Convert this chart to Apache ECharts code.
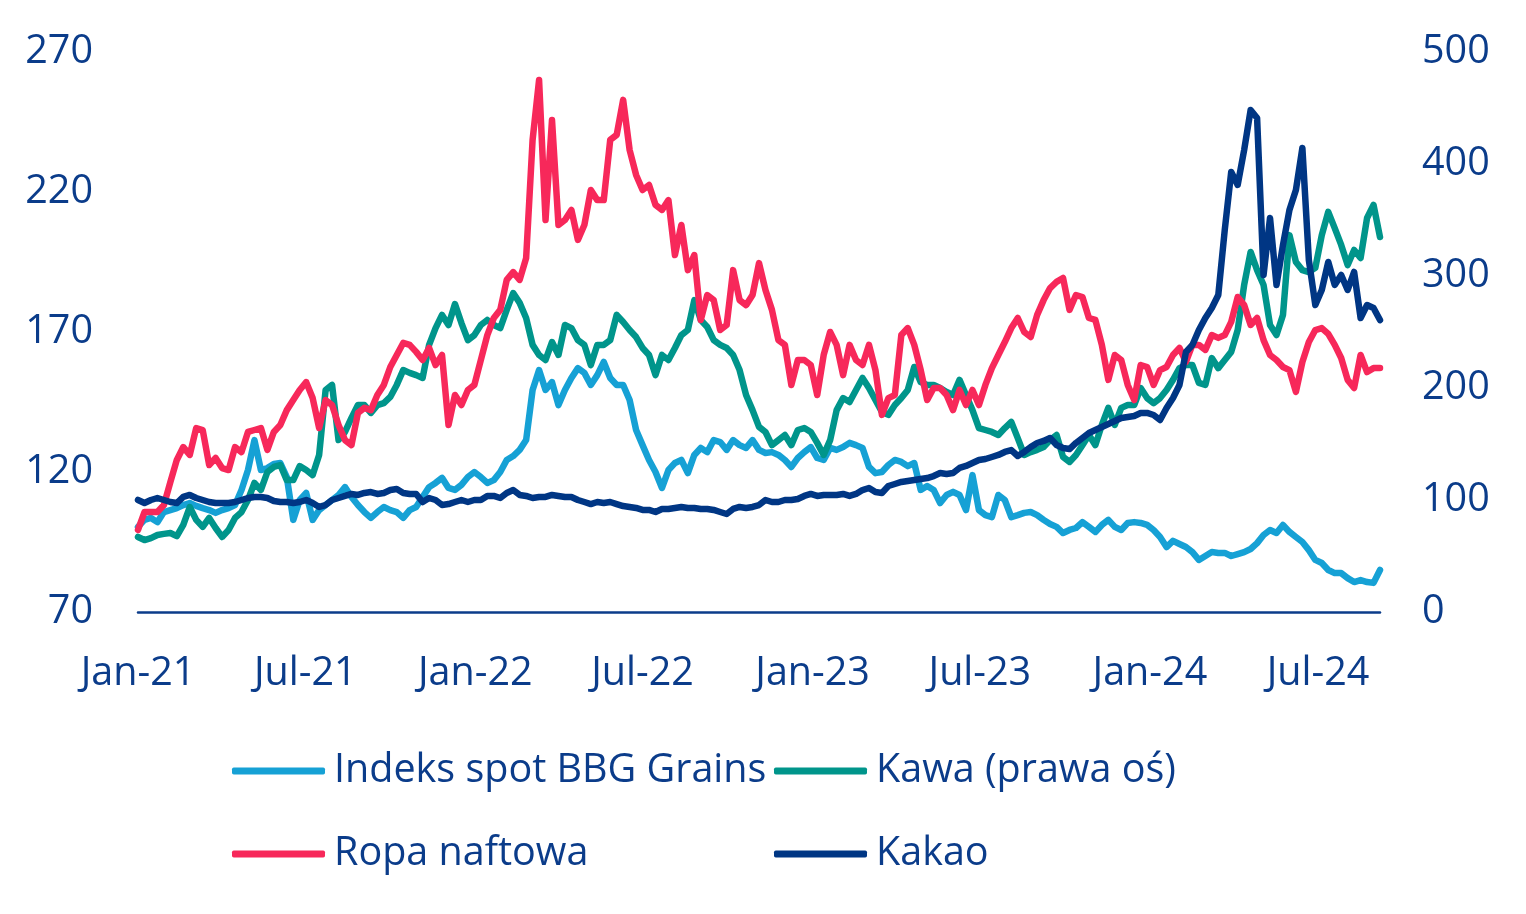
<!DOCTYPE html>
<html>
<head>
<meta charset="utf-8">
<script src="https://cdn.jsdelivr.net/npm/echarts@6/dist/echarts.min.js"></script>
<style>
html,body{margin:0;padding:0;background:#fff;}
#chart{width:1526px;height:914px;}
</style>
</head>
<body>
<div id="chart"></div>
<script>
// Weekly observations starting 2021-01-01
var startDate = [2021, 0, 1];
var stepDays = 7;

var seriesNames = ['Indeks spot BBG Grains', 'Kawa (prawa oś)', 'Ropa naftowa', 'Kakao'];

var grains = [
100.4,102.9,103.6,102.1,105.7,106.4,107.1,108.2,108.9,107.9,
107.1,106.4,105.4,106.4,107.1,108.2,113.6,120.7,131.4,120.7,
121.4,122.9,123.2,118.2,102.9,110,112.5,102.9,106.4,108.2,
110,111.8,114.6,111.1,108.2,105.7,103.6,105.7,107.5,106.4,
105.7,103.6,106.4,107.5,111.1,114.6,116.1,117.9,114.3,113.6,
115.4,118.2,120,118.2,116.1,117.1,120,124.3,125.7,127.9,
131.4,149.3,156.4,149.3,152.1,143.9,149.3,153.6,157.1,155.4,
151.1,154.6,159.3,153.6,151.1,151.1,145.7,135,129.6,124.3,
120,114.3,120.7,123.2,124.3,119.6,126.1,128.6,127.1,131.4,
130.7,127.9,131.4,129.6,128.6,131.4,127.9,126.8,127.1,126.1,
124.3,121.8,125,127.1,128.9,125,124.3,128.6,127.9,128.9,
130.4,129.6,128.6,121.8,119.6,120,122.5,124.3,123.6,122.1,
123.2,113.6,115,113.6,108.9,111.8,112.9,111.8,106.4,118.9,
106.4,104.6,103.9,111.8,110,103.9,104.6,105.4,105.7,104.6,
102.9,101.4,100.4,98.2,99.3,100,102.1,100.4,98.6,101.1,
102.9,100.4,99.3,101.8,102.1,101.8,101.1,99.3,96.8,93.2,
95.4,94.3,93.2,91.4,88.6,90,91.4,91.1,91.1,90,
90.7,91.4,92.5,94.6,97.5,99.3,98.2,101.1,98.6,96.8,
95,92.1,88.6,87.5,85,83.9,83.9,82.1,80.7,81.4,
80.7,80.4,85
];

var kawa = [
96.8,95.7,96.4,97.5,97.9,98.2,97.1,101.1,107.5,102.9,
100.4,103.6,100,96.8,99.3,103.6,105.7,110,116.1,113.6,
120,121.8,122.5,117.1,117.1,122.1,120.7,118.9,126.1,149.3,
151.1,131.4,134.3,139.3,143.9,143.9,141.1,143.9,144.6,146.8,
151.1,156.4,155.4,154.6,153.6,165.4,171.4,176.1,172.5,180,
173.2,167.1,168.9,172.5,174.3,172.5,171.4,177.9,183.9,180.4,
175,165.4,161.8,160,166.4,161.8,172.5,171.4,167.1,165.4,
158.2,165.4,165.4,167.1,176.1,173.6,170.7,168.2,164.3,161.8,
154.6,161.8,160,164.3,168.9,170.7,181.4,174.3,171.8,167.1,
165.4,164.3,161.8,156.4,147.5,142.1,136.1,134.3,129.6,131.4,
133.2,129.6,135,135.7,134.3,130.4,126.1,131.4,142.1,146.4,
145,149.3,153.6,150,145.7,141.4,140.4,143.9,146.4,149.3,
157.5,152.1,151.1,151.1,150,148.6,147.5,152.9,147.5,142.1,
135.7,135,134.3,133.2,135.7,137.9,132.1,126.1,127.1,127.9,
128.9,131.4,133.2,125.4,123.6,126.1,129.6,133.2,129.6,136.8,
142.9,136.8,142.9,143.9,143.9,150,146.4,144.6,146.4,149.3,
152.9,157.1,158.2,158.2,151.8,151.1,160.7,157.1,160,162.9,
170.7,186.8,198.6,192.1,186.8,172.5,168.9,176.1,204.6,195,
192.1,191.4,192.9,204.6,212.9,207.1,201.1,193.9,199.3,196.4,
210.7,215.4,203.9
];

var ropa = [
99.3,105.7,105.7,105.7,108.2,116.4,124.3,128.9,126.1,135.7,
135,122.5,125,121.4,120.7,128.9,127.1,134.3,135,135.7,
127.9,134.3,136.8,142.1,145.7,149.3,152.1,146.4,135.7,145.7,
143.9,136.8,131.4,129.6,141.1,142.9,142.1,147.5,151.1,157.5,
161.8,166.1,165.4,162.9,160,164.3,158.2,161.8,136.8,147.5,
143.9,149.3,151.1,160,168.9,175,177.9,188.6,191.4,188.6,
196.4,238.6,260,210,245.7,208.2,210,213.6,202.9,208.2,
220.7,217.1,217.1,238.6,240.4,252.9,235,226.1,220.7,222.5,
215.4,213.6,217.1,197.5,208.2,192.1,197.5,174.3,183.2,181.4,
170.7,172.5,192.1,181.4,179.6,183.2,194.6,185,177.9,167.1,
165.4,151.1,160,160,158.2,147.5,161.8,170,165.4,154.6,
165.4,160,158.2,165.4,156.4,140.4,146.4,147.5,168.9,171.4,
165.4,156.4,145.7,150,150,147.5,142.1,149.3,143.9,149.3,
143.9,151.1,157.1,161.8,166.4,171.4,175,170,168.2,176.1,
181.4,185.7,187.9,189.3,177.9,183.2,182.5,175,174.3,165.4,
152.9,161.8,160,151.1,145.7,158.2,157.5,151.1,156.4,157.5,
161.8,164.3,159.3,165.4,165.4,163.6,168.9,167.9,168.9,173.6,
182.5,179.6,172.5,175,167.1,161.8,160,157.5,156.4,148.6,
159.3,166.4,170.7,171.4,169.3,165.4,160.7,152.9,150,161.8,
155.7,157.1,157.1
];

var kakao = [
100,97.3,100,101.8,100,98.2,97.3,102.7,104.5,101.8,
100,98.2,97.3,97.3,97.3,98.2,100,101.8,102.7,102.7,
101.8,99.1,98.2,98.2,97.3,98.2,100,97.3,93.8,95.5,
100,101.8,103.6,105.4,104.5,106.3,107.1,105.4,106.3,108.9,
109.8,106.3,105.4,105.4,98.2,101.8,100,95.5,96.4,98.2,
100,98.2,100,100,103.6,103.6,101.8,106.3,108.9,104.5,
103.6,101.8,102.7,102.7,104.5,103.6,102.7,102.7,100,98.2,
96.4,98.2,97.3,98.2,96.4,94.6,93.8,92.9,91.1,91.1,
89.3,92,92,92.9,93.8,92.9,92.9,92,92,91.1,
89.3,87.5,92,93.8,92.9,93.8,95.5,100,98.2,98.2,
100,100,100.9,103.6,105.4,103.6,104.5,104.5,104.5,105.4,
103.6,105.4,108.9,110.7,107.1,106.3,112.5,114.3,116.1,117,
117.9,118.8,119.6,121.4,124.1,123.2,124.1,128.6,130.4,133,
135.7,136.6,138.4,140.2,142.9,144.6,139.3,142.9,147.3,150.9,
152.7,155.4,149.1,146.4,145.5,150.9,155.4,159.8,162.5,165.2,
167.9,170.5,173.2,174.1,175,177.7,177.7,175.9,171.4,182.1,
191.1,202.7,232.1,238.4,251.8,262.5,271.4,283,341.1,392.9,
381.3,412.5,448.2,441.1,300.9,351.8,292,327.7,358.9,376.8,
414.3,314.3,274.1,287.5,312.5,292,300.9,287.5,303.6,262.5,
274.1,271.4,260.7
];

var tickDates = [[2021,0,1],[2021,6,1],[2022,0,1],[2022,6,1],[2023,0,1],[2023,6,1],[2024,0,1],[2024,6,1]];
var tickLabels = ['Jan-21','Jul-21','Jan-22','Jul-22','Jan-23','Jul-23','Jan-24','Jul-24'];

var leftMin = 70, leftMax = 270, leftInterval = 50;
var rightMin = 0, rightMax = 500, rightInterval = 100;

var colors = ['#16A1D5', '#00958B', '#F7285A', '#003684'];
var textColor = '#0B3C8A';
var fontFamily = '"Open Sans", sans-serif';
var fontSize = 39.5;

var DAY = 86400000;
var t0 = Date.UTC(startDate[0], startDate[1], startDate[2]);
function dayOf(y, m, d) { return Math.round((Date.UTC(y, m, d) - t0) / DAY); }
function pairs(arr) {
  return arr.map(function (v, k) { return [k * stepDays, v]; });
}
var tickDays = tickDates.map(function (d) { return dayOf(d[0], d[1], d[2]); });
var xMin = 0;
var xMax = (grains.length - 1) * stepDays;

var chart = echarts.init(document.getElementById('chart'), null, {renderer: 'canvas'});

function lineSeries(name, data, color, yIndex, z) {
  return {
    name: name, type: 'line', data: pairs(data), yAxisIndex: yIndex,
    showSymbol: false, symbol: 'none', z: z,
    lineStyle: {color: color, width: 6.5, cap: 'round', join: 'round'},
    itemStyle: {color: color},
    emphasis: {disabled: true},
    animation: false
  };
}

function legendAt(name, left, top) {
  return {
    data: [name], left: left, top: top, padding: 0,
    icon: 'roundRect', itemWidth: 93, itemHeight: 7,
    textStyle: {color: textColor, fontSize: fontSize, fontFamily: fontFamily, padding: [0, 0, 0, 4], lineHeight: 46},
    selectedMode: false
  };
}

chart.setOption({
  backgroundColor: '#ffffff',
  animation: false,
  color: colors,
  grid: {left: 138, right: 146, top: 52, bottom: 302, containLabel: false},
  legend: [
    legendAt(seriesNames[0], 232, 748),
    legendAt(seriesNames[1], 774, 748),
    legendAt(seriesNames[2], 232, 831),
    legendAt(seriesNames[3], 774, 831)
  ],
  xAxis: {
    type: 'value', min: xMin, max: xMax,
    axisLine: {show: true, lineStyle: {color: '#0B3C8A', width: 2.5}},
    axisTick: {show: false},
    splitLine: {show: false},
    axisLabel: {
      customValues: tickDays,
      color: textColor, fontSize: fontSize, fontFamily: fontFamily, margin: 42,
      hideOverlap: false, showMinLabel: true, showMaxLabel: true,
      formatter: function (v) {
        var best = 0, bd = Infinity;
        tickDays.forEach(function (t, j) { var d = Math.abs(t - v); if (d < bd) { bd = d; best = j; } });
        return tickLabels[best];
      }
    }
  },
  yAxis: [
    {
      type: 'value', min: leftMin, max: leftMax, interval: leftInterval, position: 'left',
      axisLine: {show: false}, axisTick: {show: false}, splitLine: {show: false},
      axisLabel: {color: textColor, fontSize: fontSize, fontFamily: fontFamily, margin: 45}
    },
    {
      type: 'value', min: rightMin, max: rightMax, interval: rightInterval, position: 'right',
      axisLine: {show: false}, axisTick: {show: false}, splitLine: {show: false},
      axisLabel: {color: textColor, fontSize: fontSize, fontFamily: fontFamily, margin: 42}
    }
  ],
  series: [
    lineSeries(seriesNames[0], grains, colors[0], 0, 1),
    lineSeries(seriesNames[1], kawa, colors[1], 0, 2),
    lineSeries(seriesNames[2], ropa, colors[2], 0, 3),
    lineSeries(seriesNames[3], kakao, colors[3], 1, 4)
  ]
});
</script>
</body>
</html>
